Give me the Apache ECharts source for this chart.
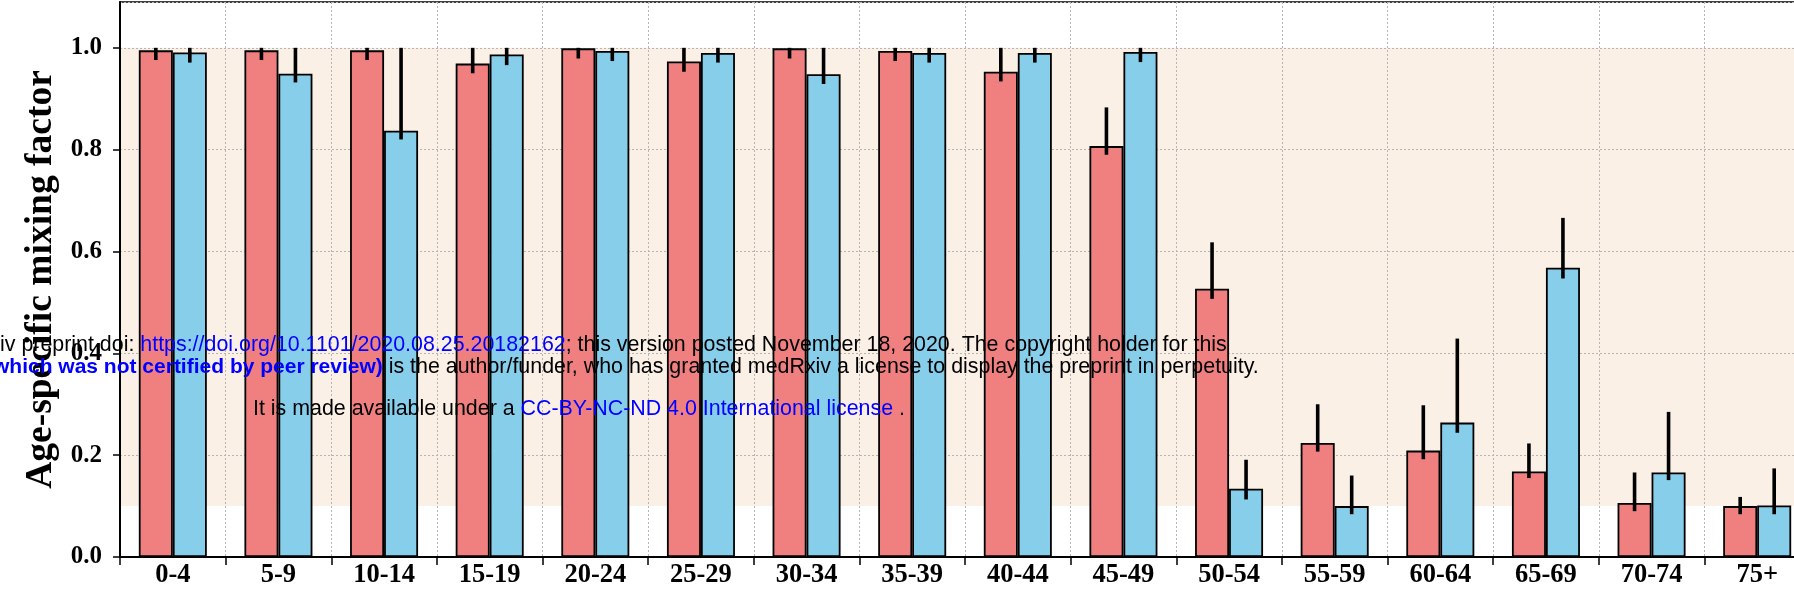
<!DOCTYPE html>
<html>
<head>
<meta charset="utf-8">
<script src="https://cdn.jsdelivr.net/npm/echarts@6/dist/echarts.min.js"></script>
<style>
  html, body { margin: 0; padding: 0; background: #fff; }
  #chart { width: 1794px; height: 600px; }
</style>
</head>
<body>
<div id="chart"></div>
<script>
const categories = ['0-4','5-9','10-14','15-19','20-24','25-29','30-34','35-39','40-44','45-49','50-54','55-59','60-64','65-69','70-74','75+'];
const redMean  = [0.995, 0.995, 0.995, 0.969, 0.999, 0.973, 0.999, 0.994, 0.953, 0.807, 0.527, 0.224, 0.209, 0.168, 0.106, 0.100];
const redLow   = [0.976, 0.976, 0.976, 0.950, 0.979, 0.953, 0.979, 0.974, 0.934, 0.790, 0.507, 0.207, 0.192, 0.155, 0.090, 0.084];
const redHigh  = [1.000, 1.000, 1.000, 1.000, 1.000, 1.000, 1.000, 1.000, 1.000, 0.883, 0.618, 0.300, 0.298, 0.223, 0.166, 0.118];
const blueMean = [0.991, 0.949, 0.837, 0.987, 0.994, 0.990, 0.948, 0.990, 0.990, 0.992, 0.134, 0.100, 0.264, 0.568, 0.166, 0.101];
const blueLow  = [0.971, 0.932, 0.820, 0.966, 0.974, 0.971, 0.929, 0.971, 0.971, 0.972, 0.113, 0.084, 0.244, 0.547, 0.151, 0.084];
const blueHigh = [1.000, 1.000, 1.000, 1.000, 1.000, 1.000, 1.000, 1.000, 1.000, 1.000, 0.191, 0.160, 0.429, 0.666, 0.285, 0.174];
const yTicks = [0.0, 0.2, 0.4, 0.6, 0.8, 1.0];
const bandRange = [0.1, 1.0];

const BAR_W = 34;
const serif = 'Liberation Serif, Times New Roman, serif';
const sans = 'Liberation Sans, Arial, sans-serif';
const WM = 21.4;

function errData(low, high) {
  return categories.map((c, i) => [i, low[i], high[i]]);
}
function errRender(off) {
  return function (params, api) {
    const p1 = api.coord([api.value(0), api.value(1)]);
    const p2 = api.coord([api.value(0), api.value(2)]);
    return {
      type: 'line',
      shape: { x1: p1[0] + off, y1: p1[1], x2: p2[0] + off, y2: p2[1] },
      style: { stroke: '#000', lineWidth: 3.6, lineCap: 'butt' }
    };
  };
}

const chart = echarts.init(document.getElementById('chart'), null, { renderer: 'canvas' });
const gridLine = { show: true, lineStyle: { color: '#b5b5b5', type: [2, 2], width: 1 } };

chart.setOption({
  animation: false,
  backgroundColor: '#fff',
  grid: { left: 120, width: 1690, top: 2, bottom: 43, outerBoundsMode: 'none', containLabel: false, show: true, borderColor: '#000', borderWidth: 1.5, backgroundColor: '#fff' },
  xAxis: {
    type: 'category',
    data: categories,
    z: 1.5,
    axisLine: { lineStyle: { color: '#000', width: 2 } },
    axisTick: { show: true, length: 8, lineStyle: { color: '#000', width: 1.5 } },
    axisLabel: { color: '#000', fontFamily: serif, fontWeight: 'bold', fontSize: 26.5, margin: 5 },
    splitLine: gridLine
  },
  yAxis: {
    type: 'value',
    min: 0, max: 1.09, interval: 0.2,
    z: 1.5,
    name: 'Age-specific mixing factor',
    nameLocation: 'middle',
    nameGap: 56,
    nameTextStyle: { color: '#000', fontFamily: serif, fontWeight: 'bold', fontSize: 37.5 },
    axisLine: { show: true, lineStyle: { color: '#000', width: 2 } },
    axisTick: { show: true, length: 7, lineStyle: { color: '#000', width: 1.5 } },
    axisLabel: {
      color: '#000', fontFamily: serif, fontWeight: 'bold', fontSize: 25, margin: 18,
      showMaxLabel: false,
      formatter: v => (yTicks.some(t => Math.abs(t - v) < 1e-9) ? v.toFixed(1) : '')
    },
    splitLine: gridLine
  },
  series: [
    {
      type: 'bar',
      name: 'red',
      data: redMean,
      barWidth: BAR_W,
      barGap: '0%',
      z: 2,
      itemStyle: { color: '#F08080', borderColor: '#000', borderWidth: 1.8 },
      markArea: {
        silent: true,
        z: 1,
        itemStyle: { color: '#FAF0E6' },
        data: [[{ yAxis: bandRange[0] }, { yAxis: bandRange[1] }]]
      }
    },
    {
      type: 'bar',
      name: 'blue',
      data: blueMean,
      barWidth: BAR_W,
      barGap: '0%',
      z: 2,
      itemStyle: { color: '#87CEEB', borderColor: '#000', borderWidth: 1.8 }
    },
    {
      type: 'custom',
      z: 3,
      renderItem: errRender(-BAR_W / 2),
      data: errData(redLow, redHigh),
      encode: { x: 0, y: [1, 2] }
    },
    {
      type: 'custom',
      z: 3,
      renderItem: errRender(BAR_W / 2),
      data: errData(blueLow, blueHigh),
      encode: { x: 0, y: [1, 2] }
    }
  ],
  graphic: [
    {
      type: 'text', x: 0, y: 335, z: 100, silent: true,
      style: {
        text: '{k|iv preprint doi: }{b|https://doi.org/10.1101/2020.08.25.20182162}{k|; this version posted November 18, 2020. The copyright holder for this}',
        rich: {
          k: { fill: '#000', fontFamily: sans, fontSize: WM },
          b: { fill: '#0000FF', fontFamily: sans, fontSize: WM }
        }
      }
    },
    {
      type: 'text', x: -7, y: 357, z: 100, silent: true,
      style: {
        text: '{bb|which was not certified by peer review)}{k| is the author/funder, who has granted medRxiv a license to display the preprint in perpetuity.}',
        rich: {
          k: { fill: '#000', fontFamily: sans, fontSize: WM },
          bb: { fill: '#0000FF', fontFamily: sans, fontSize: 21, fontWeight: 'bold' }
        }
      }
    },
    {
      type: 'text', x: 253, y: 399, z: 100, silent: true,
      style: {
        text: '{k|It is made available under a }{b|CC-BY-NC-ND 4.0 International license}{k| .}',
        rich: {
          k: { fill: '#000', fontFamily: sans, fontSize: WM },
          b: { fill: '#0000FF', fontFamily: sans, fontSize: WM }
        }
      }
    }
  ]
});
</script>
</body>
</html>
